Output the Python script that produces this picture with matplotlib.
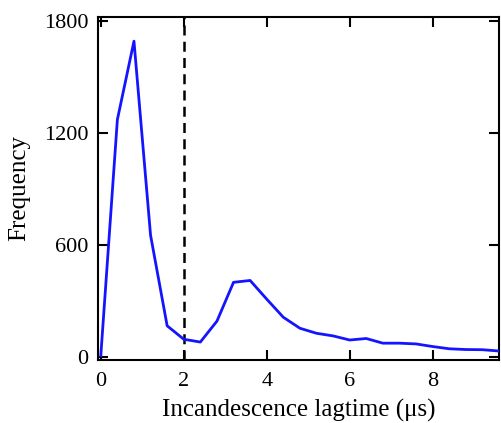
import matplotlib
matplotlib.use("Agg")
import matplotlib.pyplot as plt

# lag time bins (microseconds) and counts
lagtime = [0.0, 0.4, 0.8, 1.2, 1.6, 2.0, 2.4, 2.8, 3.2, 3.6, 4.0, 4.4, 4.8,
           5.2, 5.6, 6.0, 6.4, 6.8, 7.2, 7.6, 8.0, 8.4, 8.8, 9.2, 9.6]
frequency = [5, 1270, 1690, 650, 165, 93, 78, 190, 398, 408, 308, 211, 152,
             125, 111, 89, 97, 72, 72, 68, 54, 42, 38, 37, 30]
cutoff = 2.0

xticks = [0, 2, 4, 6, 8]
yticks = [0, 600, 1200, 1800]


def main():
    plt.rcParams["font.family"] = ["Liberation Serif", "DejaVu Serif"]

    fig = plt.figure(figsize=(5.02, 4.23), dpi=100)
    ax = fig.add_axes([0.195, 0.149, 0.799, 0.811])

    ax.plot(lagtime, frequency, color="#1414ff", linewidth=2.0, zorder=3)
    ax.axvline(cutoff, color="black", linestyle=(0, (4, 2.5)), linewidth=1.8, zorder=2)

    ax.set_xlim(-0.07, 9.6)
    ax.set_ylim(-18, 1820)
    ax.set_xticks(xticks)
    ax.set_yticks(yticks)
    ax.tick_params(direction="in", length=7, width=1.5, labelsize=16,
                   top=True, right=True, pad=7)
    ax.tick_params(axis="x", pad=9)
    for sp in ax.spines.values():
        sp.set_linewidth(1.5)

    ax.set_xlabel("Incandescence lagtime (\u03bcs)", fontsize=18, labelpad=5)
    ax.set_ylabel("Frequency", fontsize=18)
    ax.yaxis.set_label_coords(-0.168, 0.5)

    fig.savefig("out.png", dpi=100)


if __name__ == "__main__":
    main()
